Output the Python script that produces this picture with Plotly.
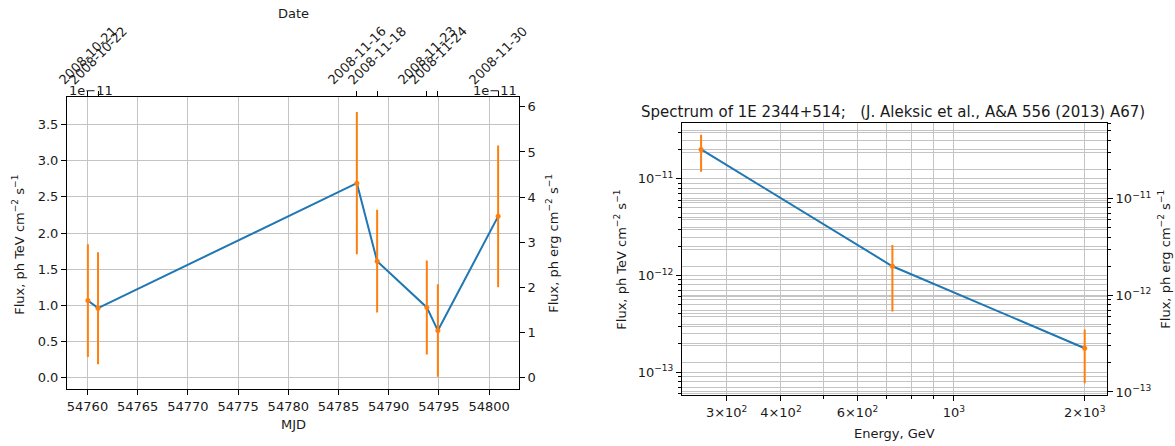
import math
import plotly.graph_objects as go

# ---------------- data ----------------
# Light curve (left panel)
mjd = [54760.04, 54761.05, 54786.83, 54788.85, 54793.80, 54794.90, 54800.90]
date_labels = ["2008-10-21", "2008-10-22", "2008-11-16", "2008-11-18",
               "2008-11-23", "2008-11-24", "2008-11-30"]
flux_lc = [1.066e-11, 0.96e-11, 2.69e-11, 1.61e-11, 0.97e-11, 0.65e-11, 2.23e-11]
flux_lc_err = [0.78e-11, 0.775e-11, 0.985e-11, 0.71e-11, 0.65e-11, 0.64e-11, 0.98e-11]
mjd_ticks = [54760, 54765, 54770, 54775, 54780, 54785, 54790, 54795, 54800]
lc_yticks = [0.0, 0.5, 1.0, 1.5, 2.0, 2.5, 3.0, 3.5]
lc_y2ticks = [0, 1, 2, 3, 4, 5, 6]

# Spectrum (right panel)
energy = [262, 722, 2000]
flux_sp = [2.01e-11, 1.245e-12, 1.77e-13]
flux_sp_err = [0.83e-11, 0.82e-12, 1.0e-13]
e_major = [300, 400, 600, 1000, 2000]
e_major_text = ["3×10<sup>2</sup>", "4×10<sup>2</sup>", "6×10<sup>2</sup>",
                "10<sup>3</sup>", "2×10<sup>3</sup>"]
e_minor = [500, 700, 800, 900]
flux_decades = [1e-13, 1e-12, 1e-11]
flux_decade_text = ["10<sup>−13</sup>", "10<sup>−12</sup>", "10<sup>−11</sup>"]
flux_minor_mult = [2, 3, 4, 5, 6, 7, 8, 9]

OFFSET = 1e-11          # matplotlib offset text "1e-11"
ERG_PER_TEV = 1.602     # twin axis conversion

# ---------------- geometry helpers ----------------
W, H = 1175, 446
def px(x):
    return x / W
def py(y):
    return 1 - y / H

FONT = "DejaVu Sans"
TXT = "#1a1a1a"
GRID = "#c4c4c4"
BLUE = "#1f77b4"
ORANGE = "#ff7f0e"

fig = go.Figure()

# ---- left panel traces ----
y_lc = [v / OFFSET for v in flux_lc]
e_lc = [v / OFFSET for v in flux_lc_err]
fig.add_trace(go.Scatter(x=mjd, y=y_lc, mode="lines", line=dict(color=BLUE, width=2),
                         xaxis="x", yaxis="y", showlegend=False, hoverinfo="skip"))
fig.add_trace(go.Scatter(x=mjd, y=y_lc, mode="markers",
                         marker=dict(color=ORANGE, size=5),
                         error_y=dict(type="data", array=e_lc, thickness=2, width=0, color=ORANGE),
                         xaxis="x", yaxis="y", showlegend=False, hoverinfo="skip"))
fig.add_trace(go.Scatter(x=mjd, y=[v * ERG_PER_TEV for v in y_lc], mode="markers",
                         marker=dict(opacity=0), xaxis="x2", yaxis="y2",
                         showlegend=False, hoverinfo="skip"))

# ---- right panel traces ----
fig.add_trace(go.Scatter(x=energy, y=flux_sp, mode="lines", line=dict(color=BLUE, width=2),
                         xaxis="x3", yaxis="y3", showlegend=False, hoverinfo="skip"))
fig.add_trace(go.Scatter(x=energy, y=flux_sp, mode="markers",
                         marker=dict(color=ORANGE, size=5),
                         error_y=dict(type="data", array=flux_sp_err, thickness=2, width=0, color=ORANGE),
                         xaxis="x3", yaxis="y3", showlegend=False, hoverinfo="skip"))
fig.add_trace(go.Scatter(x=energy, y=[v * ERG_PER_TEV for v in flux_sp], mode="markers",
                         marker=dict(opacity=0), xaxis="x3", yaxis="y4",
                         showlegend=False, hoverinfo="skip"))

# ---------------- axes ----------------
tickfont = dict(family=FONT, size=13, color=TXT)
base = dict(showline=True, linecolor="black", linewidth=1, ticks="outside",
            ticklen=5, tickwidth=1, tickcolor="black", tickfont=tickfont, zeroline=False)
grid = dict(gridcolor=GRID, gridwidth=1)

Lx0, Lx1, Ly0, Ly1 = 67, 519, 98, 393
Rx0, Rx1, Ry0, Ry1 = 682, 1107, 124, 399

lc_xrange = [54757.96, 54802.98]
lc_yrange = [-0.165, 3.88]

fig.update_layout(
    xaxis=dict(domain=[px(Lx0), px(Lx1)], anchor="y", range=lc_xrange,
               tickmode="array", tickvals=mjd_ticks, tickformat="d",
               showgrid=True, mirror=True, **base, **grid),
    xaxis2=dict(domain=[px(Lx0), px(Lx1)], anchor="y", overlaying="x", side="top",
                range=lc_xrange, tickmode="array", tickvals=mjd, showticklabels=False,
                showgrid=False, **base),
    yaxis=dict(domain=[py(Ly1), py(Ly0)], anchor="x", range=lc_yrange,
               tickmode="array", tickvals=lc_yticks, tickformat=".1f",
               showgrid=True, mirror=True, **base, **grid),
    yaxis2=dict(domain=[py(Ly1), py(Ly0)], anchor="x", overlaying="y", side="right",
                range=[lc_yrange[0] * ERG_PER_TEV, lc_yrange[1] * ERG_PER_TEV],
                tickmode="array", tickvals=lc_y2ticks, tickformat="d", showgrid=False,
                **base),
)

sp_xrange = [math.log10(236.8), math.log10(2251)]
sp_yrange = [-13.24, -10.423]
y_minor = [k * d for d in [1e-14] + flux_decades for k in flux_minor_mult]
minor_y = dict(tickmode="array", tickvals=y_minor, ticks="outside", ticklen=3,
               tickwidth=1, tickcolor="black", showgrid=True, gridcolor=GRID, gridwidth=1)
minor_x = dict(tickmode="array", tickvals=e_minor, ticks="outside", ticklen=3,
               tickwidth=1, tickcolor="black", showgrid=True, gridcolor=GRID, gridwidth=1)

fig.update_layout(
    xaxis3=dict(domain=[px(Rx0), px(Rx1)], anchor="y3", type="log", range=sp_xrange,
                tickmode="array", tickvals=e_major, ticktext=e_major_text,
                showgrid=True, mirror=True, minor=minor_x, **base, **grid),
    yaxis3=dict(domain=[py(Ry1), py(Ry0)], anchor="x3", type="log", range=sp_yrange,
                tickmode="array", tickvals=flux_decades, ticktext=flux_decade_text,
                showgrid=True, mirror=True, minor=minor_y, **base, **grid),
    yaxis4=dict(domain=[py(Ry1), py(Ry0)], anchor="x3", overlaying="y3", side="right",
                type="log",
                range=[sp_yrange[0] + math.log10(ERG_PER_TEV), sp_yrange[1] + math.log10(ERG_PER_TEV)],
                tickmode="array", tickvals=flux_decades, ticktext=flux_decade_text,
                showgrid=True, minor=minor_y, **base, **grid),
)

# ---------------- text ----------------
afont = dict(family=FONT, size=13, color=TXT)
ann = []
for m, lab in zip(mjd, date_labels):
    ann.append(dict(x=m, xref="x2", y=py(91), yref="paper", text=lab, showarrow=False,
                    textangle=-45, xanchor="center", yanchor="bottom", font=afont))
ann += [
    dict(x=px((Lx0 + Lx1) / 2), y=py(14), text="Date"),
    dict(x=px((Lx0 + Lx1) / 2), y=py(428), text="MJD"),
    dict(x=px(Lx0), y=py(91), text="1e−11", xanchor="left"),
    dict(x=px(Lx1), y=py(91), text="1e−11", xanchor="right"),
    dict(x=px(18), y=py(247), text="Flux, ph TeV cm<sup>−2</sup> s<sup>−1</sup>", textangle=-90),
    dict(x=px(552), y=py(246), text="Flux, ph erg cm<sup>−2</sup> s<sup>−1</sup>", textangle=-90),
    dict(x=px((Rx0 + Rx1) / 2), y=py(437), text="Energy, GeV"),
    dict(x=px(620), y=py(262), text="Flux, ph TeV cm<sup>−2</sup> s<sup>−1</sup>", textangle=-90),
    dict(x=px(1164), y=py(262), text="Flux, ph erg cm<sup>−2</sup> s<sup>−1</sup>", textangle=-90),
    dict(x=px(893), y=py(113),
         text="Spectrum of 1E 2344+514;   (J. Aleksic et al., A&A 556 (2013) A67)",
         font=dict(family=FONT, size=15, color=TXT)),
]
for a in ann:
    a.setdefault("xref", "paper")
    a.setdefault("yref", "paper")
    a.setdefault("showarrow", False)
    a.setdefault("font", afont)
    a.setdefault("xanchor", "center")
    a.setdefault("yanchor", "middle")

fig.update_layout(
    width=W, height=H, margin=dict(l=0, r=0, t=0, b=0),
    paper_bgcolor="white", plot_bgcolor="white",
    annotations=ann, showlegend=False, hovermode=False,
    font=dict(family=FONT, size=13, color=TXT),
)

# remove the default 8px page margin so the figure fills the window exactly
fig.write_html("out.html",
               config={"displayModeBar": False},
               post_script="document.body.style.margin='0';document.body.style.overflow='hidden';")
